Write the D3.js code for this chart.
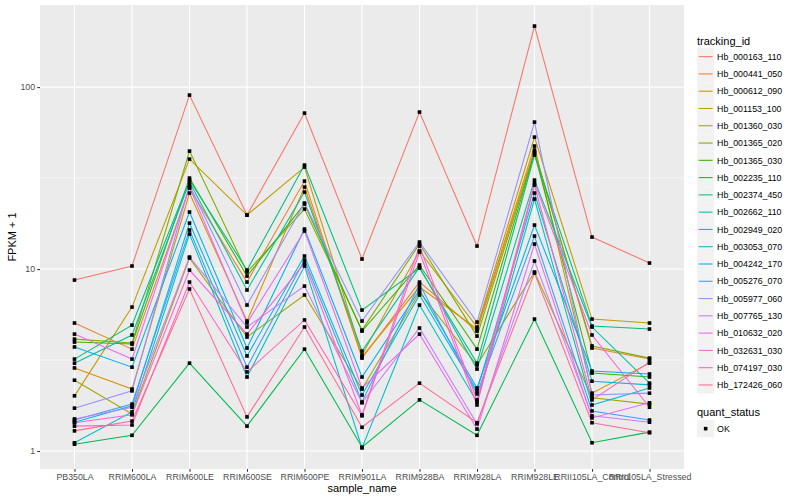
<!DOCTYPE html>
<html>
<head>
<meta charset="utf-8">
<script src="https://cdn.jsdelivr.net/npm/d3@7"></script>
<style>
body { margin: 0; background: #fff; }
text { font-family: "Liberation Sans", Arial, sans-serif; }
</style>
</head>
<body>
<div id="chart"></div>
<script>
var samples = ["PB350LA", "RRIM600LA", "RRIM600LE", "RRIM600SE", "RRIM600PE", "RRIM901LA",
  "RRIM928BA", "RRIM928LA", "RRIM928LE", "RRII105LA_Control", "RRII105LA_Stressed"];

var trackingIds = ["Hb_000163_110", "Hb_000441_050", "Hb_000612_090", "Hb_001153_100", "Hb_001360_030",
  "Hb_001365_020", "Hb_001365_030", "Hb_002235_110", "Hb_002374_450", "Hb_002662_110",
  "Hb_002949_020", "Hb_003053_070", "Hb_004242_170", "Hb_005276_070", "Hb_005977_060",
  "Hb_007765_130", "Hb_010632_020", "Hb_032631_030", "Hb_074197_030", "Hb_172426_060"];

// FPKM + 1, one row per tracking_id, one value per sample
var fpkm = [
  [8.70, 10.39, 90.4, 19.81, 71.97, 11.35, 72.9, 13.38, 216.4, 14.99, 10.79],
  [5.05, 3.63, 27.87, 8.48, 30.44, 3.24, 8.48, 4.56, 45.06, 3.68, 3.20],
  [2.86, 2.19, 26.16, 5.18, 28.22, 3.29, 7.96, 4.68, 47.4, 2.08, 3.04],
  [2.01, 6.18, 40.2, 19.81, 36.35, 3.37, 12.56, 4.80, 53.1, 5.31, 5.05],
  [2.45, 1.60, 11.49, 4.23, 7.20, 2.19, 7.47, 2.97, 9.63, 1.96, 1.81],
  [4.12, 3.92, 44.5, 9.63, 21.36, 4.62, 13.72, 4.28, 43.95, 3.78, 3.24],
  [3.97, 3.87, 31.62, 9.15, 22.76, 4.56, 10.52, 3.63, 43.4, 2.68, 2.55],
  [1.09, 1.22, 3.04, 1.37, 3.63, 1.05, 1.91, 1.22, 5.31, 1.11, 1.27],
  [3.20, 4.92, 30.83, 9.87, 37.28, 5.95, 10.13, 3.04, 42.3, 4.86, 4.68],
  [3.04, 4.34, 30.06, 7.67, 26.49, 3.54, 10.25, 2.82, 30.83, 4.80, 2.36],
  [1.11, 1.64, 15.57, 2.55, 10.39, 1.04, 6.34, 1.86, 24.25, 1.79, 2.22],
  [1.44, 1.77, 17.89, 3.33, 11.79, 2.03, 7.20, 2.14, 26.16, 2.42, 2.31],
  [3.73, 2.89, 20.57, 3.68, 16.59, 2.55, 7.67, 2.22, 17.45, 2.75, 2.65],
  [1.48, 1.81, 16.38, 2.89, 11.21, 1.86, 8.27, 2.06, 15.18, 1.66, 1.48],
  [1.72, 2.14, 28.94, 6.34, 23.05, 5.18, 14.07, 5.11, 64.2, 2.03, 2.08],
  [1.50, 1.74, 11.64, 4.80, 8.06, 1.84, 4.74, 1.41, 11.07, 1.56, 1.44],
  [4.39, 3.20, 28.22, 5.05, 16.18, 2.22, 4.39, 1.32, 13.72, 1.52, 1.84],
  [1.43, 1.58, 9.87, 4.39, 10.79, 1.58, 13.38, 1.91, 29.68, 4.34, 1.74],
  [1.37, 1.39, 8.48, 2.72, 5.25, 1.56, 12.40, 1.79, 28.94, 1.91, 3.08],
  [1.29, 1.46, 7.77, 1.54, 4.80, 1.35, 2.36, 1.43, 9.51, 1.43, 1.26]
];

var yTicks = [1, 10, 100];
var yMinor = [Math.pow(10, 0.5), Math.pow(10, 1.5), Math.pow(10, 2.5)];
var statusLevels = ["OK"];

var palette = ["#F8766D", "#EA8331", "#D89000", "#C09B00", "#A3A500", "#7CAE00", "#39B600",
  "#00BB4E", "#00BF7D", "#00C1A3", "#00BFC4", "#00BAE0", "#00B0F6", "#35A2FF", "#9590FF",
  "#C77CFF", "#E76BF3", "#FA62DB", "#FF62BC", "#FF6C91"];

var width = 800, height = 500;
var panel = {left: 40, right: 684, top: 5, bottom: 469};

var series = trackingIds.map(function(id, i) {
  return {id: id, values: samples.map(function(s, j) { return {sample: s, value: fpkm[i][j]}; })};
});

var color = d3.scaleOrdinal().domain(trackingIds).range(palette);

var x = d3.scalePoint()
    .domain(samples)
    .range([panel.left, panel.right])
    .padding(0.6);

// ggplot-like 5% expansion in log space
var ext = d3.extent(d3.merge(fpkm)).map(Math.log10);
var pad = (ext[1] - ext[0]) * 0.05;
var y = d3.scaleLog()
    .domain([Math.pow(10, ext[0] - pad), Math.pow(10, ext[1] + pad)])
    .range([panel.bottom, panel.top]);

var svg = d3.select("#chart").append("svg")
    .attr("width", width)
    .attr("height", height);

svg.append("rect")
    .attr("x", panel.left).attr("y", panel.top)
    .attr("width", panel.right - panel.left).attr("height", panel.bottom - panel.top)
    .attr("fill", "#EBEBEB");

var grid = svg.append("g");
grid.selectAll(".minor")
    .data(yMinor.filter(function(v) { return y(v) > panel.top; }))
  .enter().append("line")
    .attr("x1", panel.left).attr("x2", panel.right)
    .attr("y1", d => y(d)).attr("y2", d => y(d))
    .attr("stroke", "#fff").attr("stroke-width", 0.53);
grid.selectAll(".major")
    .data(yTicks)
  .enter().append("line")
    .attr("x1", panel.left).attr("x2", panel.right)
    .attr("y1", d => y(d)).attr("y2", d => y(d))
    .attr("stroke", "#fff").attr("stroke-width", 1.07);
grid.selectAll(".vx")
    .data(samples)
  .enter().append("line")
    .attr("x1", d => x(d)).attr("x2", d => x(d))
    .attr("y1", panel.top).attr("y2", panel.bottom)
    .attr("stroke", "#fff").attr("stroke-width", 1.07);

var line = d3.line()
    .x(d => x(d.sample))
    .y(d => y(d.value));

svg.append("g").selectAll("path")
    .data(series)
  .enter().append("path")
    .attr("d", d => line(d.values))
    .attr("fill", "none")
    .attr("stroke", d => color(d.id))
    .attr("stroke-width", 1.07);

var pts = d3.merge(series.map(d => d.values));
svg.append("g").selectAll("rect")
    .data(pts)
  .enter().append("rect")
    .attr("x", d => x(d.sample) - 1.8)
    .attr("y", d => y(d.value) - 1.8)
    .attr("width", 3.6).attr("height", 3.6)
    .attr("fill", "#000");

// axes
var xAxis = svg.append("g")
    .attr("transform", "translate(0," + panel.bottom + ")")
    .call(d3.axisBottom(x).tickSize(2.75).tickPadding(2.5));
var yAxis = svg.append("g")
    .attr("transform", "translate(" + panel.left + ",0)")
    .call(d3.axisLeft(y).tickValues(yTicks).tickFormat(d3.format("d")).tickSize(2.75).tickPadding(2.2));
[xAxis, yAxis].forEach(function(a) {
  a.select(".domain").remove();
  a.selectAll(".tick line").attr("stroke", "#333333").attr("stroke-width", 1.07);
  a.selectAll(".tick text").attr("fill", "#4D4D4D").style("font-size", "8.8px")
    .style("font-family", "'Liberation Sans', Arial, sans-serif");
});

svg.append("text")
    .attr("x", (panel.left + panel.right) / 2).attr("y", 492)
    .attr("text-anchor", "middle")
    .style("font-size", "11px")
    .text("sample_name");

svg.append("text")
    .attr("transform", "translate(16," + ((panel.top + panel.bottom) / 2) + ") rotate(-90)")
    .attr("text-anchor", "middle")
    .style("font-size", "11px")
    .text("FPKM + 1");

// legend: tracking_id
var keySize = 17.28;
var legend = svg.append("g").attr("transform", "translate(697,0)");
legend.append("text")
    .attr("x", 0).attr("y", 44.5)
    .style("font-size", "11px")
    .text("tracking_id");

var keys = legend.selectAll(".key")
    .data(trackingIds)
  .enter().append("g")
    .attr("transform", (d, i) => "translate(0," + (48 + i * keySize) + ")");
keys.append("rect")
    .attr("width", keySize).attr("height", keySize)
    .attr("fill", "#F2F2F2");
keys.append("line")
    .attr("x1", 1.7).attr("x2", keySize - 1.7)
    .attr("y1", keySize / 2).attr("y2", keySize / 2)
    .attr("stroke", d => color(d))
    .attr("stroke-width", 1.07);
keys.append("text")
    .attr("x", keySize + 2.8).attr("y", keySize / 2 + 3.2)
    .style("font-size", "8.8px")
    .text(d => d);

// legend: quant_status
var legend2 = svg.append("g").attr("transform", "translate(697,0)");
legend2.append("text")
    .attr("x", 0).attr("y", 415.5)
    .style("font-size", "11px")
    .text("quant_status");
var keys2 = legend2.selectAll(".key2")
    .data(statusLevels)
  .enter().append("g")
    .attr("transform", (d, i) => "translate(0," + (420 + i * keySize) + ")");
keys2.append("rect")
    .attr("width", keySize).attr("height", keySize)
    .attr("fill", "#F2F2F2");
keys2.append("rect")
    .attr("x", keySize / 2 - 1.8).attr("y", keySize / 2 - 1.8)
    .attr("width", 3.6).attr("height", 3.6)
    .attr("fill", "#000");
keys2.append("text")
    .attr("x", keySize + 2.8).attr("y", keySize / 2 + 3.2)
    .style("font-size", "8.8px")
    .text(d => d);
</script>
</body>
</html>
